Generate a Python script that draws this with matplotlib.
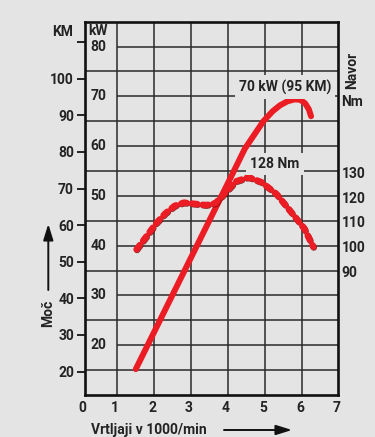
import matplotlib
matplotlib.use("Agg")
import matplotlib.pyplot as plt
import matplotlib.patheffects as pe
import numpy as np

# ---------------- data ----------------
power_rpm = [1.5, 2.0, 2.5, 3.0, 3.5, 3.8, 4.1, 4.45, 4.95, 5.2, 5.4, 5.6, 5.8,
             5.95, 6.08, 6.18, 6.24]
power_kw = [15.2, 22.7, 30.2, 37.7, 45.2, 49.7, 54.2, 59.5, 65.0, 67.0, 68.2,
            69.0, 69.4, 69.3, 68.6, 67.4, 66.0]

torque_rpm = [1.52, 1.8, 2.05, 2.3, 2.55, 2.8, 3.1, 3.4, 3.65, 3.9, 4.2, 4.55, 4.9, 5.3, 5.7, 6.05, 6.3]
torque_nm = [99, 104.5, 109.5, 113.5, 116.5, 117.8, 117.3, 116.8, 117.5, 121.5, 126.3, 128, 126, 121.3, 114, 107.5, 100]

x_ticks = [0, 1, 2, 3, 4, 5, 6, 7]
kw_labels = [20, 30, 40, 50, 60, 70, 80]
km_ticks = [20, 30, 40, 50, 60, 70, 80, 90, 100, 110]
nm_ticks = [90, 100, 110, 120, 130]

power_label = "70 kW (95 KM)"
torque_label = "128 Nm"
x_label = "Vrtljaji v 1000/min"
y_label = "Moč"

KW_PER_KM = 0.7355
NM0, KW0 = 90.0, 34.76  # Nm scale alignment to kW scale


def nm_to_kw(m):
    return KW0 + (np.asarray(m, dtype=float) - NM0) / 2.0


def kw_to_nm(k):
    return NM0 + (np.asarray(k, dtype=float) - KW0) * 2.0


# ---------------- style ----------------
BG = "#e4e4e4"
INK = "#232323"
RED = "#ec1c24"
FS = 10
plt.rcParams["font.family"] = ["Roboto", "DejaVu Sans"]
plt.rcParams["font.weight"] = "bold"

W, H = 375, 437
fig = plt.figure(figsize=(W / 100, H / 100), dpi=100, facecolor=BG)


def P(x, y):
    return (x / W, 1 - y / H)


L, R, T, B = 85, 337.7, 21.7, 395
ax = fig.add_axes([L / W, 1 - B / H, (R - L) / W, (B - T) / H])
ax.set_facecolor(BG)
ax.set_xlim(0.127, 6.96)
ax.set_ylim(10, 85)
ax.set_xticks([])
ax.set_yticks([])
for s in ax.spines.values():
    s.set_linewidth(1.9)
    s.set_color("#111111")

# grid
for v in range(1, 7):
    ax.axvline(v, color="#2a2a2a", lw=1.1, zorder=1)
for v in range(15, 80, 10):
    ax.axhline(v, color="#2a2a2a", lw=1.1, zorder=1)
for v in kw_labels:
    ax.hlines(v, 1, 6.96, color="#2a2a2a", lw=1.1, zorder=1)

# kW labels inside
for v in kw_labels:
    ax.text(0.49, v, str(v), ha="center", va="center", fontsize=FS, color=INK, zorder=3)
ax.text(0.49, 83.2, "kW", ha="center", va="center", fontsize=FS, color=INK, zorder=3)

# curves
shadow = [pe.SimpleLineShadow(offset=(0.4, -0.5), shadow_color="#7a0000", alpha=0.8), pe.Normal()]
ax.plot(power_rpm, power_kw, color=RED, lw=4.3, solid_capstyle="round",
        solid_joinstyle="round", zorder=5)
ax.plot(torque_rpm, nm_to_kw(torque_nm), color=RED, lw=4.6,
        linestyle=(0, (0.85, 0.85)), dash_capstyle="round", zorder=5, path_effects=shadow)

# annotation labels with background boxes
fig.text(*P(285, 87), power_label, ha="center", va="center", fontsize=FS, color=INK,
         bbox=dict(facecolor=BG, edgecolor="none", pad=3), zorder=4)
fig.text(*P(275, 164), torque_label, ha="center", va="center", fontsize=FS, color=INK,
         bbox=dict(facecolor=BG, edgecolor="none", pad=3), zorder=4)

# left KM scale
sec = ax.secondary_yaxis("left", functions=(lambda k: np.asarray(k) / KW_PER_KM,
                                             lambda m: np.asarray(m) * KW_PER_KM))
sec.set_yticks(km_ticks, labels=[str(v) if v <= 100 else "" for v in km_ticks])
sec.tick_params(length=6, width=1.4, pad=2, labelsize=FS, colors=INK)
sec.spines["left"].set_visible(False)
fig.text(*P(63, 32), "KM", ha="center", va="center", fontsize=FS, color=INK)

# right Nm scale
sec2 = ax.secondary_yaxis("right", functions=(kw_to_nm, nm_to_kw))
sec2.set_yticks(nm_ticks, labels=[str(v) for v in nm_ticks])
sec2.tick_params(length=0, pad=3, labelsize=FS, colors=INK)
sec2.spines["right"].set_visible(False)
fig.text(*P(352, 70), "Navor", ha="center", va="center", rotation=90, fontsize=FS, color=INK)
fig.text(*P(352, 102), "Nm", ha="center", va="center", fontsize=FS, color=INK)

# x tick labels
xmin = ax.get_xlim()[0]
for v in x_ticks:
    ax.text(max(v - 0.06, xmin - 0.06), -0.035, str(v), transform=ax.get_xaxis_transform(),
            ha="center", va="center", fontsize=FS, color=INK, clip_on=False)

fig.text(*P(149, 430), x_label, ha="center", va="center", fontsize=FS, color=INK)
fig.text(*P(48, 313), y_label, ha="center", va="center", rotation=90, fontsize=FS, color=INK)

arrow = dict(arrowstyle="-|>,head_length=0.8,head_width=0.25", color="#111111", lw=1.4,
             shrinkA=0, shrinkB=0, mutation_scale=12)
fig.add_artist(matplotlib.patches.FancyArrowPatch(P(224, 430), P(292, 430), transform=fig.transFigure, **arrow))
fig.add_artist(matplotlib.patches.FancyArrowPatch(P(48.3, 290), P(48.3, 224), transform=fig.transFigure, **arrow))

fig.savefig("out.png", dpi=100, facecolor=BG)
